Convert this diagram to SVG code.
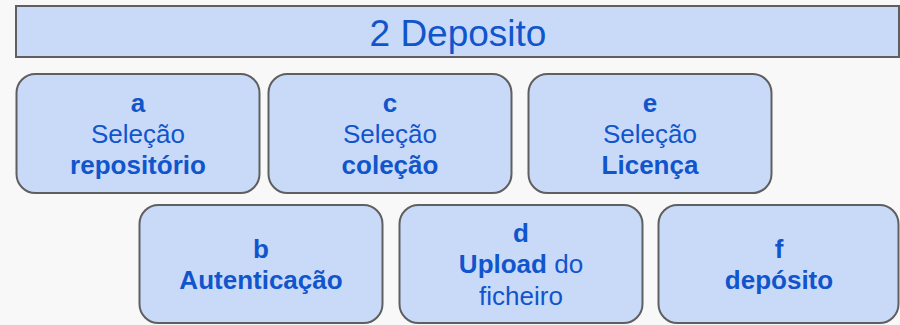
<svg xmlns="http://www.w3.org/2000/svg" width="900" height="325" viewBox="0 0 900 325">
<style>
.box{fill:#c9daf8;stroke:#5f5f5f;stroke-width:2}
text{font-family:"Liberation Sans",Arial,sans-serif;fill:#1155cc;text-anchor:middle}
.t{font-size:26px}
.b{font-weight:bold}
.h{font-size:37px}
</style>
<rect width="900" height="325" fill="#f8f8f8"/>
<g id="header">
<rect class="box" x="16" y="6" width="883" height="51"/>
<text class="h" x="458" y="46">2 Deposito</text>
</g>
<g id="node-a">
<rect class="box" x="16.5" y="74" width="243" height="119" rx="19"/>
<text class="t" x="138" y="112"><tspan class="b">a</tspan><tspan x="138" dy="31">Seleção</tspan><tspan x="138" dy="31" class="b">repositório</tspan></text>
</g>
<g id="node-c">
<rect class="box" x="268.5" y="74" width="243" height="119" rx="19"/>
<text class="t" x="390" y="112"><tspan class="b">c</tspan><tspan x="390" dy="31">Seleção</tspan><tspan x="390" dy="31" class="b">coleção</tspan></text>
</g>
<g id="node-e">
<rect class="box" x="528.5" y="74" width="243" height="119" rx="19"/>
<text class="t" x="650" y="112"><tspan class="b">e</tspan><tspan x="650" dy="31">Seleção</tspan><tspan x="650" dy="31" class="b">Licença</tspan></text>
</g>
<g id="node-b">
<rect class="box" x="139.5" y="205" width="243" height="118" rx="19"/>
<text class="t" x="261" y="258"><tspan class="b">b</tspan><tspan x="261" dy="31" class="b">Autenticação</tspan></text>
</g>
<g id="node-d">
<rect class="box" x="399.5" y="205" width="243" height="118" rx="19"/>
<text class="t" x="521" y="242"><tspan class="b">d</tspan><tspan x="521" dy="31"><tspan class="b">Upload</tspan> do</tspan><tspan x="521" dy="32">ficheiro</tspan></text>
</g>
<g id="node-f">
<rect class="box" x="658.5" y="205" width="240" height="118" rx="19"/>
<text class="t" x="779" y="258"><tspan class="b">f</tspan><tspan x="779" dy="31" class="b">depósito</tspan></text>
</g>
<g id="connectors"/>
</svg>
